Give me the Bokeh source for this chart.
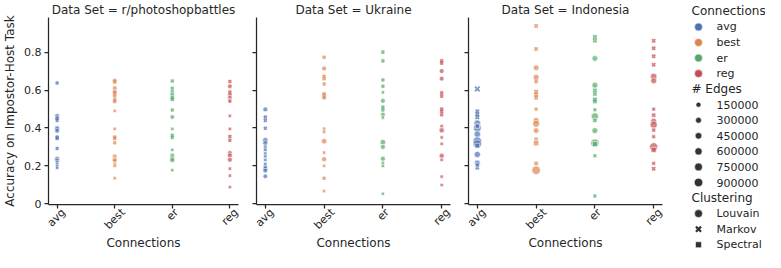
import math
from bokeh.plotting import figure
from bokeh.layouts import row, column
from bokeh.models import ColumnDataSource, Range1d, FixedTicker, CustomJSTickFormatter, LinearAxis
from bokeh.core.properties import value
from bokeh.embed import file_html
from bokeh.resources import INLINE

# ---------------- data ----------------
datasets = ["r/photoshopbattles", "Ukraine", "Indonesia"]
connections = ["avg", "best", "er", "reg"]
clustering_codes = ["L", "M", "S"]
clustering_names = ["Louvain", "Markov", "Spectral"]
edge_legend = [150000, 300000, 450000, 600000, 750000, 900000]
y_ticks = [0.0, 0.2, 0.4, 0.6, 0.8]
palette = ["#4C72B0", "#DD8452", "#55A868", "#C44E52"]

# (accuracy, clustering, # edges in thousands)
psb_avg = [(0.637, "M", 60), (0.464, "L", 120), (0.452, "L", 100), (0.44, "M", 60), (0.40, "L", 140),
           (0.395, "L", 120), (0.385, "L", 100), (0.352, "M", 80), (0.345, "M", 60), (0.292, "M", 40),
           (0.237, "L", 160), (0.228, "L", 140), (0.22, "S", 100), (0.21, "S", 80), (0.2, "S", 60), (0.19, "S", 40)]
psb_best = [(0.65, "L", 100), (0.642, "M", 60), (0.61, "L", 120), (0.59, "L", 90), (0.585, "M", 60),
            (0.57, "L", 80), (0.55, "M", 50), (0.54, "L", 70), (0.49, "S", 40), (0.395, "S", 60),
            (0.352, "M", 60), (0.345, "M", 50), (0.322, "M", 40), (0.25, "L", 120), (0.235, "L", 140),
            (0.228, "L", 100), (0.21, "S", 80), (0.2, "S", 60), (0.135, "S", 40)]
psb_er = [(0.648, "M", 60), (0.61, "M", 50), (0.59, "L", 80), (0.575, "L", 100), (0.56, "L", 90),
          (0.55, "M", 60), (0.495, "M", 40), (0.458, "L", 80), (0.395, "S", 60), (0.362, "M", 50),
          (0.35, "M", 40), (0.284, "S", 40), (0.255, "L", 100), (0.24, "L", 120), (0.23, "L", 140), (0.177, "S", 40)]
psb_reg = [(0.645, "M", 60), (0.62, "L", 100), (0.59, "M", 50), (0.575, "L", 80), (0.56, "L", 90),
           (0.545, "L", 80), (0.54, "S", 60), (0.464, "S", 40), (0.395, "S", 60), (0.355, "M", 60),
           (0.335, "M", 40), (0.268, "L", 100), (0.255, "L", 120), (0.232, "L", 140), (0.185, "S", 40),
           (0.148, "S", 40), (0.088, "S", 30)]

ukr_avg = [(0.498, "L", 120), (0.458, "M", 60), (0.44, "M", 50), (0.398, "M", 40), (0.335, "L", 200),
           (0.32, "L", 160), (0.3, "S", 100), (0.285, "S", 80), (0.265, "S", 70), (0.25, "S", 60),
           (0.232, "S", 50), (0.21, "S", 40), (0.198, "M", 40), (0.185, "L", 100), (0.175, "L", 120), (0.145, "L", 80)]
ukr_best = [(0.773, "M", 60), (0.714, "L", 120), (0.673, "M", 50), (0.66, "M", 60), (0.632, "M", 40),
            (0.58, "M", 60), (0.57, "L", 130), (0.56, "L", 100), (0.396, "S", 60), (0.38, "S", 50),
            (0.33, "L", 220), (0.27, "S", 60), (0.235, "L", 150), (0.2, "S", 40), (0.135, "M", 40), (0.067, "S", 30)]
ukr_er = [(0.8, "M", 60), (0.754, "M", 50), (0.653, "M", 60), (0.62, "M", 50), (0.588, "S", 40),
          (0.543, "L", 120), (0.51, "M", 60), (0.495, "M", 50), (0.47, "L", 110), (0.455, "S", 50),
          (0.325, "L", 220), (0.3, "L", 140), (0.237, "L", 140), (0.215, "S", 60), (0.2, "S", 40), (0.053, "S", 30)]
ukr_reg = [(0.755, "M", 60), (0.742, "M", 50), (0.7, "L", 120), (0.66, "L", 100), (0.585, "M", 60),
           (0.568, "M", 50), (0.5, "M", 60), (0.487, "M", 50), (0.47, "M", 40), (0.41, "S", 50),
           (0.388, "L", 180), (0.35, "S", 40), (0.316, "S", 40), (0.253, "L", 160), (0.232, "S", 50),
           (0.143, "S", 30), (0.099, "S", 30)]

ind_avg = [(0.606, "M", 600), (0.488, "M", 200), (0.472, "M", 150), (0.456, "M", 300), (0.425, "L", 450),
           (0.41, "S", 300), (0.4, "L", 700), (0.367, "L", 400), (0.33, "L", 900), (0.315, "L", 850),
           (0.307, "S", 400), (0.26, "L", 350), (0.215, "L", 300), (0.205, "S", 200), (0.19, "M", 150)]
ind_best = [(0.938, "M", 200), (0.817, "M", 150), (0.718, "L", 250), (0.668, "L", 300), (0.645, "M", 150),
            (0.592, "M", 250), (0.575, "M", 200), (0.56, "M", 150), (0.499, "S", 150), (0.44, "L", 300),
            (0.422, "L", 500), (0.386, "L", 250), (0.34, "S", 250), (0.32, "S", 550), (0.213, "S", 250),
            (0.177, "L", 900)]
ind_er = [(0.88, "M", 250), (0.86, "M", 200), (0.767, "L", 250), (0.626, "L", 300), (0.598, "M", 200),
          (0.579, "M", 150), (0.55, "M", 250), (0.54, "M", 200), (0.496, "S", 150), (0.461, "L", 550),
          (0.44, "S", 250), (0.386, "L", 300), (0.32, "L", 800), (0.315, "S", 450), (0.253, "S", 150),
          (0.041, "S", 150)]
ind_reg = [(0.86, "M", 150), (0.82, "M", 150), (0.778, "M", 150), (0.734, "M", 150), (0.672, "L", 400),
           (0.649, "L", 300), (0.499, "S", 150), (0.467, "M", 150), (0.436, "L", 300), (0.417, "L", 550),
           (0.389, "S", 200), (0.354, "S", 150), (0.3, "L", 850), (0.284, "S", 500), (0.213, "S", 150),
           (0.185, "M", 150)]

panel_data = [
    [psb_avg, psb_best, psb_er, psb_reg],
    [ukr_avg, ukr_best, ukr_er, ukr_reg],
    [ind_avg, ind_best, ind_er, ind_reg],
]

# ---------------- scales ----------------
all_pts = [pt for panel in panel_data for col in panel for pt in col]
acc_all = [pt[0] for pt in all_pts]
edges_all = [pt[2] * 1000 for pt in all_pts]
e_min, e_max = min(edges_all), max(edges_all)
lo, hi = min(acc_all), max(acc_all)
pad = (hi - lo) * 0.05
y_lo, y_hi = lo - pad, hi + pad

X_LO, X_HI = -0.15, 3.15
FRAME_W = 194  # frame width in px (layout constant)


def diam(edges):
    t = (edges - e_min) / (e_max - e_min)
    return math.sqrt(18 + 54 * t)


TXT = "#262626"
FONT = "DejaVu Sans"
ALPHA = 0.7


def style_marker_kwargs(code, color, fill_alpha=ALPHA, lw=1.8):
    if code == "L":
        return dict(marker="circle", fill_color=color, fill_alpha=fill_alpha, line_color="white", line_width=0.6)
    if code == "M":
        return dict(marker="x", line_color=color, line_alpha=fill_alpha, line_width=lw)
    return dict(marker="square", fill_color=color, fill_alpha=fill_alpha, line_color="white", line_width=0.6)


size_factor = {"L": 1.0, "M": 0.9, "S": 0.75}


def label_shift(txt, fs=11):
    # right-aligned 45deg labels -> move anchor so that the rotated text is centred on the tick
    w = 0.56 * fs * len(txt)
    return w * 0.354 * (X_HI - X_LO) / FRAME_W


def style_text_axis(ax):
    ax.major_label_text_font = FONT
    ax.major_label_text_font_size = "11px"
    ax.major_label_text_color = TXT
    ax.axis_label_text_font = FONT
    ax.axis_label_text_font_size = "12px"
    ax.axis_label_text_font_style = "normal"
    ax.axis_label_text_color = TXT


def make_panel(idx):
    first = idx == 0
    p = figure(width=242 if first else 212, height=252,
               x_range=Range1d(X_LO, X_HI), y_range=Range1d(y_lo, y_hi),
               output_backend="svg", toolbar_location=None,
               title="Data Set = " + datasets[idx],
               min_border_left=44 if first else 14, min_border_right=4,
               min_border_top=0, min_border_bottom=0)
    p.title.align = "center"
    p.title.text_font = FONT
    p.title.text_font_size = "12px"
    p.title.text_font_style = "normal"
    p.title.text_color = TXT
    p.title.standoff = 1
    p.outline_line_color = None
    p.grid.visible = False
    for ax in (p.xaxis, p.yaxis):
        ax.axis_line_color = TXT
        ax.axis_line_width = 1.25
        ax.major_tick_line_color = TXT
        ax.major_tick_line_width = 1.25
        ax.major_tick_out = 4
        ax.major_tick_in = 0
        ax.minor_tick_out = 0
        ax.minor_tick_in = 0
        style_text_axis(ax)
    # primary x axis: spine + tick marks only
    p.xaxis.ticker = FixedTicker(ticks=list(range(len(connections))))
    p.xaxis.formatter = CustomJSTickFormatter(code="return ''")
    p.xaxis.major_label_standoff = 0
    # secondary x axis: rotated category labels + axis title
    lab_ax = LinearAxis(ticker=FixedTicker(ticks=[ci + label_shift(c) for ci, c in enumerate(connections)]),
                        formatter=CustomJSTickFormatter(args=dict(names=connections),
                                                        code="return names[Math.round(tick)]"))
    style_text_axis(lab_ax)
    lab_ax.axis_line_color = None
    lab_ax.major_tick_line_color = None
    lab_ax.minor_tick_line_color = None
    lab_ax.major_tick_out = 0
    lab_ax.major_tick_in = 0
    lab_ax.minor_tick_out = 0
    lab_ax.minor_tick_in = 0
    lab_ax.major_label_orientation = math.pi / 4
    lab_ax.major_label_standoff = 2
    lab_ax.axis_label = "Connections"
    lab_ax.axis_label_standoff = -4
    p.add_layout(lab_ax, "below")

    p.yaxis.ticker = FixedTicker(ticks=y_ticks)
    if first:
        p.yaxis.axis_label = "Accuracy on Impostor-Host Task"
        p.yaxis.major_label_standoff = 3
        p.yaxis.axis_label_standoff = 4
    else:
        p.yaxis.formatter = CustomJSTickFormatter(code="return ''")
        p.yaxis.major_label_standoff = 0

    for ci, col in enumerate(panel_data[idx]):
        color = palette[ci]
        for code in clustering_codes:
            pts = [pt for pt in col if pt[1] == code]
            if not pts:
                continue
            src = ColumnDataSource(dict(
                x=[ci] * len(pts),
                y=[pt[0] for pt in pts],
                s=[diam(pt[2] * 1000) * size_factor[code] for pt in pts],
            ))
            p.scatter("x", "y", size="s", source=src, **style_marker_kwargs(code, color))
    return p


panels = [make_panel(i) for i in range(3)]

# ---------------- legend ----------------
leg = figure(width=99, height=252, x_range=Range1d(0, 99), y_range=Range1d(16, -0.2),
             output_backend="svg", toolbar_location=None,
             min_border_left=0, min_border_right=0, min_border_top=0, min_border_bottom=0,
             x_axis_type=None, y_axis_type=None)
leg.grid.visible = False
leg.outline_line_color = None

TITLE_X, MARK_X, LAB_X = 25, 32, 50
rows_title = []
rows_item = []
r = 0
rows_title.append((r, "Connections")); r += 1
conn_rows = []
for ci, c in enumerate(connections):
    conn_rows.append(r); rows_item.append((r, c)); r += 1
rows_title.append((r, "# Edges")); r += 1
edge_rows = []
for e in edge_legend:
    edge_rows.append(r); rows_item.append((r, str(e))); r += 1
rows_title.append((r, "Clustering")); r += 1
clus_rows = []
for nm in clustering_names:
    clus_rows.append(r); rows_item.append((r, nm)); r += 1

leg.text(x=[TITLE_X] * len(rows_title), y=[t[0] + 0.5 for t in rows_title], text=[t[1] for t in rows_title],
         text_font=value(FONT), text_font_size="12px", text_color=TXT, text_baseline="middle", text_align="left")
leg.text(x=[LAB_X] * len(rows_item), y=[t[0] + 0.5 for t in rows_item], text=[t[1] for t in rows_item],
         text_font=value(FONT), text_font_size="11px", text_color=TXT, text_baseline="middle", text_align="left")

leg.scatter(x=[MARK_X] * 4, y=[rr + 0.5 for rr in conn_rows], size=8, marker="circle",
            fill_color=palette, line_color="white", line_width=0.6)
leg.scatter(x=[MARK_X] * len(edge_legend), y=[rr + 0.5 for rr in edge_rows],
            size=[diam(e) for e in edge_legend], marker="circle",
            fill_color="#333333", line_color="white", line_width=0.6)
for code, rr in zip(clustering_codes, clus_rows):
    kw = style_marker_kwargs(code, "#333333", fill_alpha=1.0, lw=2.2)
    leg.scatter(x=[MARK_X], y=[rr + 0.5], size=8 * size_factor[code], **kw)

layout = row(*panels, column(leg))
open("out.html", "w").write(file_html(layout, INLINE))
